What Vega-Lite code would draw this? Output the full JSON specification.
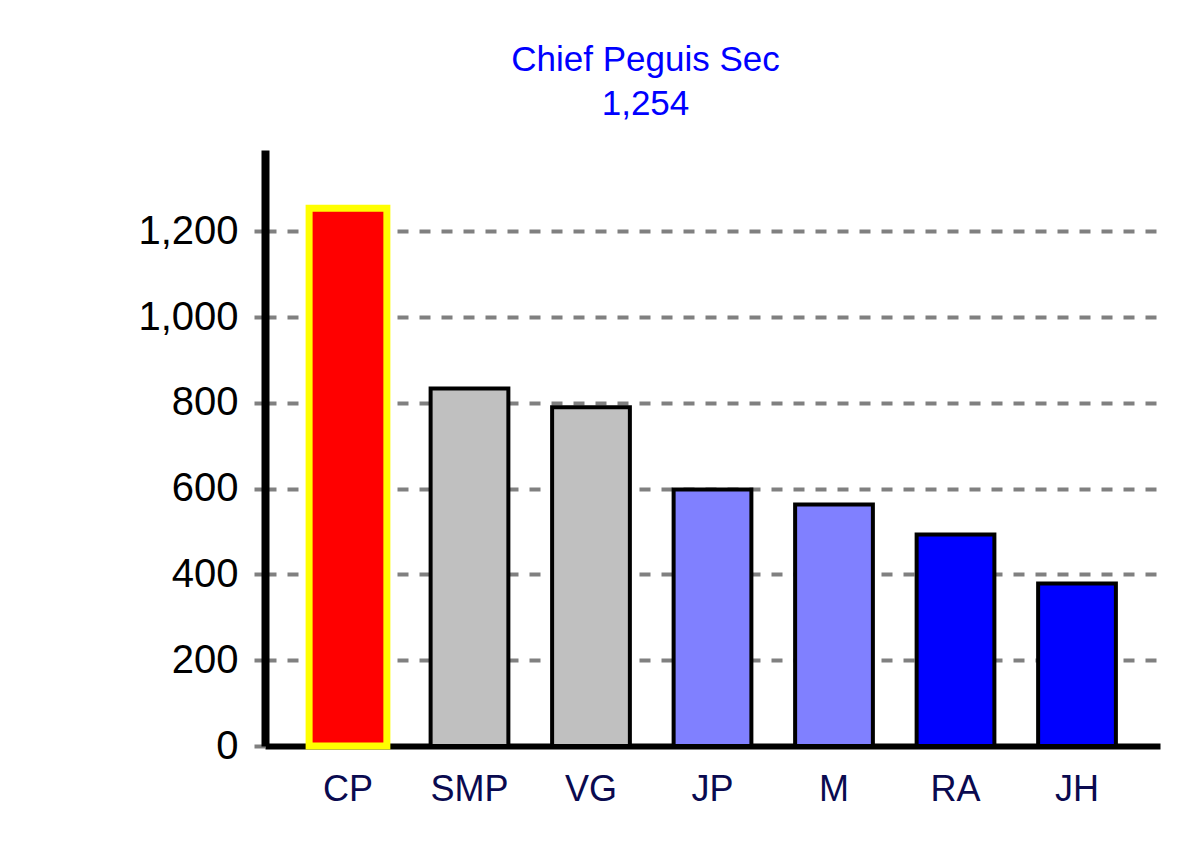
{
  "$schema": "https://vega.github.io/schema/vega-lite/v6.json",
  "width": 895,
  "height": 596,
  "autosize": {"type": "none"},
  "padding": {"left": 265, "top": 150, "right": 20, "bottom": 109},
  "background": "white",
  "title": {
    "text": ["Chief Peguis Sec", "1,254"],
    "color": "#0000FF",
    "font": "Liberation Sans",
    "fontSize": 35,
    "fontWeight": "normal",
    "lineHeight": 44,
    "anchor": "middle",
    "dx": -67,
    "offset": 28
  },
  "data": {
    "values": [
      {"school": "CP", "value": 1254, "grp": "sel"},
      {"school": "SMP", "value": 834, "grp": "near"},
      {"school": "VG", "value": 790, "grp": "near"},
      {"school": "JP", "value": 598, "grp": "mid"},
      {"school": "M", "value": 563, "grp": "mid"},
      {"school": "RA", "value": 493, "grp": "far"},
      {"school": "JH", "value": 379, "grp": "far"}
    ]
  },
  "mark": {"type": "bar"},
  "encoding": {
    "x": {
      "field": "school",
      "type": "nominal",
      "sort": null,
      "scale": {"paddingInner": 0.36, "paddingOuter": 0.363},
      "axis": {
        "title": null,
        "labelAngle": 0,
        "labelFont": "Liberation Sans",
        "labelFontSize": 36,
        "labelColor": "#0A0A50",
        "labelPadding": 26,
        "ticks": false,
        "domainColor": "#000000",
        "domainWidth": 6,
        "grid": false
      }
    },
    "y": {
      "field": "value",
      "type": "quantitative",
      "scale": {"domain": [0, 1390], "nice": false},
      "axis": {
        "title": null,
        "values": [0, 200, 400, 600, 800, 1000, 1200],
        "format": ",.0f",
        "labelFont": "Liberation Sans",
        "labelFontSize": 40,
        "labelColor": "#000000",
        "labelPadding": 12,
        "tickColor": "#808080",
        "tickWidth": 4,
        "tickSize": 15,
        "tickDash": [11, 11],
        "domainColor": "#000000",
        "domainWidth": 8,
        "gridColor": "#808080",
        "gridWidth": 4,
        "gridDash": [11, 11]
      }
    },
    "fill": {
      "field": "grp",
      "type": "nominal",
      "scale": {"domain": ["sel", "near", "mid", "far"], "range": ["#FF0000", "#C0C0C0", "#8080FF", "#0000FF"]},
      "legend": null
    },
    "stroke": {"condition": {"test": "datum.grp === 'sel'", "value": "#FFFF00"}, "value": "#000000"},
    "strokeWidth": {"condition": {"test": "datum.grp === 'sel'", "value": 7}, "value": 4}
  },
  "config": {"view": {"stroke": null}}
}
